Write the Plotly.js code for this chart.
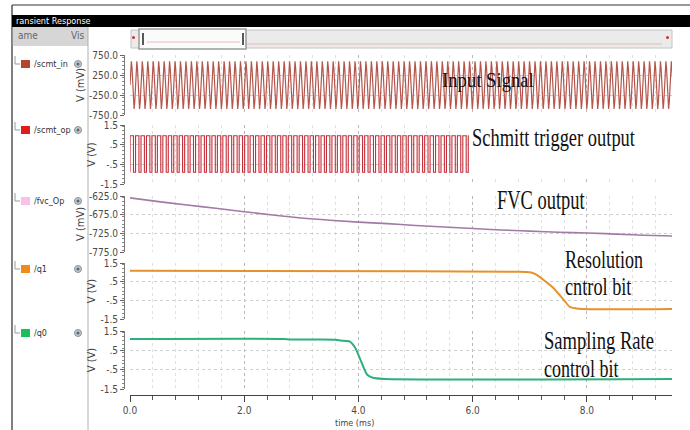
<!DOCTYPE html>
<html><head><meta charset="utf-8">
<script src="https://cdn.plot.ly/plotly-3.0.1.min.js"></script>
<style>html,body{margin:0;padding:0;background:#fff}#chart{width:690px;height:430px}</style>
</head><body><div id="chart"></div>
<script>
// ---------- data ----------
const signalNames = ["/scmt_in", "/scmt_op", "/fvc_Op", "/q1", "/q0"];
const timeTickVals = [0, 2, 4, 6, 8];
const timeTickText = ["0.0", "2.0", "4.0", "6.0", "8.0"];

const inTickVals = [750, 250, -250, -750];
const inTickText = ["750.0", "250.0", "-250.0", "-750.0"];
const voltTickVals = [1.5, 0.5, -0.5, -1.5];
const voltTickText = ["1.5", ".5", "-.5", "-1.5"];
const fvcTickVals = [-625, -675, -725, -775];
const fvcTickText = ["-625.0", "-675.0", "-725.0", "-775.0"];

// input sine: one period sampled (mV), period (ms) and number of periods shown
const inputCycle_mV = [0, 420, 590, 420, 0, -425, -600, -425];
const inputPeriod_ms = 0.0955;
const inputCycles = 100;

// schmitt trigger output: levels (V), edges within a period (fraction), visible end (ms)
const schmittLevels_V = [-0.9, 0.95];
const schmittEdges = [0.02, 0.64];
const schmittEnd_ms = 5.93;

// FVC output (mV)
const fvcT = [0, 0.5, 1, 1.5, 2, 2.5, 3, 3.5, 4, 4.5, 5, 5.5, 6, 6.5, 7, 7.5, 8, 8.5, 9, 9.5];
const fvcV = [-630, -640, -649, -658, -667, -676, -684, -690, -695, -699, -704, -708, -712, -716, -719, -722, -724, -727, -730, -732];

// resolution control bit q1 (V)
const q1T = [0, 5, 6.8, 7.0, 7.1, 7.4, 7.6, 7.7, 7.85, 9.5];
const q1V = [1.08, 1.06, 1.03, 1.0, 0.9, 0.2, -0.5, -0.85, -0.95, -0.96];

// sampling rate control bit q0 (V)
const q0T = [0, 2.7, 2.8, 3.6, 3.7, 3.85, 3.95, 4.05, 4.15, 4.25, 4.45, 9.5];
const q0V = [1.09, 1.09, 1.06, 1.05, 1.0, 0.95, 0.6, -0.1, -0.75, -0.92, -0.98, -0.98];

// ---------- build repeated waveforms from the read period ----------
const inT = [], inV = [];
for (let c = 0; c < inputCycles; c++) {
  for (let k = 0; k < inputCycle_mV.length; k++) {
    inT.push((c + k / inputCycle_mV.length) * inputPeriod_ms);
    inV.push(inputCycle_mV[k]);
  }
}
const opT = [0], opV = [schmittLevels_V[0]];
for (let c = 0; c * inputPeriod_ms < schmittEnd_ms; c++) {
  const t0 = c * inputPeriod_ms;
  const r = t0 + schmittEdges[0] * inputPeriod_ms, f = t0 + schmittEdges[1] * inputPeriod_ms;
  if (r > schmittEnd_ms) break;
  opT.push(r, r); opV.push(schmittLevels_V[0], schmittLevels_V[1]);
  if (f > schmittEnd_ms) { opT.push(schmittEnd_ms); opV.push(schmittLevels_V[1]); break; }
  opT.push(f, f); opV.push(schmittLevels_V[1], schmittLevels_V[0]);
}

// ---------- layout helpers ----------
const W = 690, H = 430;
const px = x => x / W;
const py = y => 1 - y / H;
const tickFont = {family: "DejaVu Sans Condensed, Liberation Sans Narrow, DejaVu Sans, sans-serif", size: 10, color: "#4a4a4a"};

function yax(domTop, domBot, range, vals, text, title, minorDtick) {
  return {
    domain: [py(domBot), py(domTop)], range: range, anchor: "free", position: px(124),
    tickmode: "array", tickvals: vals, ticktext: text, tickfont: tickFont,
    ticks: "outside", ticklen: 4, tickcolor: "#666", showline: true, linecolor: "#777", linewidth: 1,
    minor: {ticks: "outside", ticklen: 2, tickcolor: "#888", tickmode: "linear", dtick: minorDtick, showgrid: false},
    showgrid: true, gridcolor: "#cfcfcf", griddash: "dot", gridwidth: 1, zeroline: false,
    title: {text: title, font: {family: tickFont.family, size: 11, color: "#444"}, standoff: 1},
    fixedrange: true
  };
}

const traces = [
  {x: inT, y: inV, xaxis: "x", yaxis: "y", mode: "lines", line: {color: "#b5554c", width: 1.2}, hoverinfo: "skip"},
  {x: opT, y: opV, xaxis: "x", yaxis: "y2", mode: "lines", line: {color: "#c5303a", width: 1.1}, hoverinfo: "skip"},
  {x: fvcT, y: fvcV, xaxis: "x", yaxis: "y3", mode: "lines", line: {color: "#a27aa6", width: 1.6, shape: "spline"}, hoverinfo: "skip"},
  {x: q1T, y: q1V, xaxis: "x", yaxis: "y4", mode: "lines", line: {color: "#e6922c", width: 2, shape: "spline", smoothing: 0.6}, hoverinfo: "skip"},
  {x: q0T, y: q0V, xaxis: "x", yaxis: "y5", mode: "lines", line: {color: "#2db07c", width: 2, shape: "spline", smoothing: 0.6}, hoverinfo: "skip"}
];

const legendColors = ["#b5432f", "#e01d1d", "#f6c2ea", "#f08a1c", "#1dbd5f"];
const legendY = [64, 130, 201, 269, 333];

const shapes = [
  {type: "line", xref: "paper", yref: "paper", x0: px(12), x1: px(690), y0: py(5), y1: py(5), line: {color: "#777", width: 1.5}},
  {type: "line", xref: "paper", yref: "paper", x0: px(12), x1: px(12), y0: py(5), y1: py(430), line: {color: "#555", width: 1.5}},
  {type: "rect", xref: "paper", yref: "paper", x0: px(12), x1: px(690), y0: py(27), y1: py(15), fillcolor: "#000", line: {width: 0}},
  {type: "rect", xref: "paper", yref: "paper", x0: px(12.8), x1: px(88), y0: py(46), y1: py(27), fillcolor: "#d6d6d6", line: {width: 0}},
  {type: "line", xref: "paper", yref: "paper", x0: px(88), x1: px(88), y0: py(27), y1: py(430), line: {color: "#b0b0b0", width: 1}},
  {type: "rect", xref: "paper", yref: "paper", x0: px(131), x1: px(672), y0: py(48), y1: py(30), fillcolor: "#ebebeb", line: {color: "#c4c4c4", width: 1}},
  {type: "line", xref: "paper", yref: "paper", x0: px(140), x1: px(662), y0: py(44), y1: py(44), line: {color: "#e4b8b8", width: 1}},
  {type: "rect", xref: "paper", yref: "paper", x0: px(139), x1: px(246), y0: py(49), y1: py(29), fillcolor: "#fbfbfb", line: {color: "#9a9a9a", width: 1.5}},
  {type: "line", xref: "paper", yref: "paper", x0: px(143), x1: px(143), y0: py(45), y1: py(33), line: {color: "#222", width: 1.5}},
  {type: "line", xref: "paper", yref: "paper", x0: px(243), x1: px(243), y0: py(45), y1: py(33), line: {color: "#222", width: 1.5}},
  {type: "line", xref: "paper", yref: "paper", x0: px(147), x1: px(240), y0: py(42), y1: py(42), line: {color: "#e7bcbc", width: 1}},
  {type: "circle", xref: "paper", yref: "paper", x0: px(132), x1: px(135), y0: py(39), y1: py(36), fillcolor: "#d23030", line: {width: 0}},
  {type: "circle", xref: "paper", yref: "paper", x0: px(666), x1: px(669), y0: py(39), y1: py(36), fillcolor: "#d23030", line: {width: 0}},
  {type: "rect", xref: "paper", yref: "paper", layer: "above", x0: px(469), x1: px(676), y0: py(177), y1: py(117), fillcolor: "#fff", line: {width: 0}}
];

const annotations = [
  {xref: "paper", yref: "paper", x: px(14), y: py(21), xanchor: "left", yanchor: "middle", text: "ransient Response", showarrow: false, font: {family: tickFont.family, size: 9, color: "#fff"}},
  {xref: "paper", yref: "paper", x: px(16), y: py(36), xanchor: "left", yanchor: "middle", text: "ame", showarrow: false, font: {family: tickFont.family, size: 10, color: "#666"}},
  {xref: "paper", yref: "paper", x: px(69), y: py(36), xanchor: "left", yanchor: "middle", text: "Vis", showarrow: false, font: {family: tickFont.family, size: 10, color: "#666"}},
  {xref: "paper", yref: "paper", x: px(355), y: py(423), xanchor: "center", yanchor: "middle", text: "time (ms)", showarrow: false, font: {family: tickFont.family, size: 9, color: "#444"}}
];

signalNames.forEach((name, i) => {
  const y = legendY[i];
  shapes.push({type: "path", xref: "paper", yref: "paper", path: `M ${px(15)} ${py(y - 8)} L ${px(15)} ${py(y)} L ${px(20)} ${py(y)}`, line: {color: "#999", width: 1}});
  shapes.push({type: "rect", xref: "paper", yref: "paper", x0: px(21), x1: px(30), y0: py(y + 4), y1: py(y - 4), fillcolor: legendColors[i], line: {width: 0}});
  shapes.push({type: "circle", xref: "paper", yref: "paper", x0: px(74.5), x1: px(81.5), y0: py(y + 3.5), y1: py(y - 3.5), fillcolor: "#c3c8cc", line: {color: "#8c949a", width: 1}});
  shapes.push({type: "circle", xref: "paper", yref: "paper", x0: px(76.5), x1: px(79.5), y0: py(y + 1.5), y1: py(y - 1.5), fillcolor: "#5b6670", line: {width: 0}});
  annotations.push({xref: "paper", yref: "paper", x: px(32), y: py(y), xanchor: "left", yanchor: "middle", text: name, showarrow: false, font: {family: tickFont.family, size: 9, color: "#333"}});
});

// captions: text, left x, cap-centre y, font size, target width (px) -> tall narrow lettering
const captions = [
  ["Input Signal", 440, 80, 21, 92],
  ["Schmitt trigger output", 470, 137, 25, 163],
  ["FVC output", 495, 200, 27, 88],
  ["Resolution", 563, 259, 26, 78],
  ["cntrol bit", 563, 286, 26, 67],
  ["Sampling Rate", 542, 340, 26, 110],
  ["control bit", 542, 368, 26, 75]
];
const capStart = annotations.length;
captions.forEach(c => annotations.push({xref: "paper", yref: "paper", x: px(c[1]), y: py(c[2]), xanchor: "left", yanchor: "middle",
  text: c[0], showarrow: false, font: {family: "Liberation Serif, Times New Roman, serif", size: c[3], color: "#111"}}));

const layout = {
  width: W, height: H, margin: {l: 0, r: 0, t: 0, b: 0},
  paper_bgcolor: "#fff", plot_bgcolor: "#fff", showlegend: false,
  xaxis: {
    domain: [px(130), px(672)], range: [0, 9.49], anchor: "free", position: py(395),
    tickmode: "array", tickvals: timeTickVals, ticktext: timeTickText, tickfont: tickFont,
    ticks: "outside", ticklen: 6, tickcolor: "#444", showline: true, linecolor: "#444", linewidth: 1,
    minor: {ticks: "outside", ticklen: 4, tickcolor: "#555", tickmode: "linear", tick0: 0, dtick: 0.4,
            showgrid: true, gridcolor: "#e0e0e0", griddash: "dot", gridwidth: 1},
    showgrid: true, gridcolor: "#b8b8b8", griddash: "dot", zeroline: false, fixedrange: true
  },
  yaxis:  yax(55, 115, [-750, 750], inTickVals, inTickText, "V (mV)", 100),
  yaxis2: yax(125, 184, [-1.5, 1.5], voltTickVals, voltTickText, "V (V)", 0.2),
  yaxis3: yax(196, 252, [-775, -625], fvcTickVals, fvcTickText, "V (mV)", 10),
  yaxis4: yax(263, 319, [-1.5, 1.5], voltTickVals, voltTickText, "V (V)", 0.2),
  yaxis5: yax(331, 389, [-1.5, 1.5], voltTickVals, voltTickText, "V (V)", 0.2),
  shapes: shapes, annotations: annotations
};

Plotly.newPlot("chart", traces, layout, {staticPlot: true, displayModeBar: false}).then(gd => {
  const groups = gd.querySelectorAll("g.annotation");
  captions.forEach((c, i) => {
    const g = groups[capStart + i];
    if (!g) return;
    const t = g.querySelector("text.annotation-text");
    if (!t) return;
    const bb = t.getBBox();
    if (!bb.width) return;
    const s = c[4] / bb.width;
    const prev = t.getAttribute("transform") || "";
    t.setAttribute("transform", `${prev} translate(${bb.x},0) scale(${s},1) translate(${-bb.x},0)`);
  });
});
</script>
</body></html>
